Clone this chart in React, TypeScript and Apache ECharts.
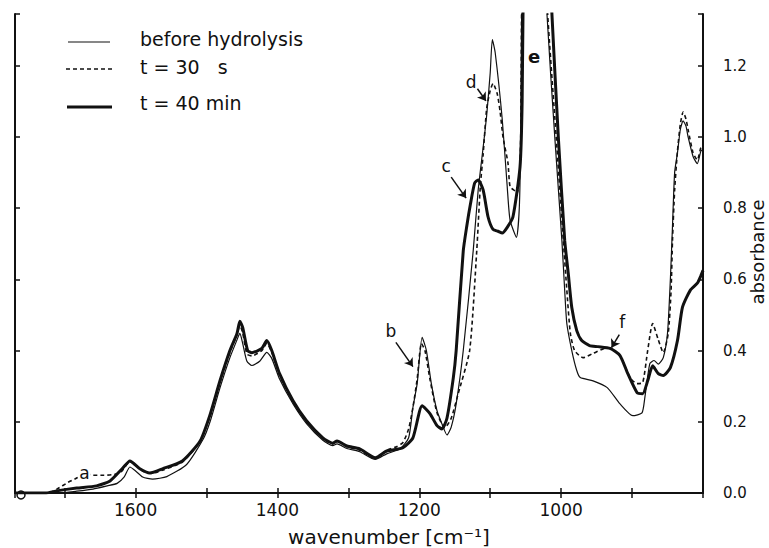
import React, { useEffect, useRef } from "react";
import * as echarts from "echarts";

// wavenumber [cm-1], absorbance
const beforeHydrolysis: [number, number][] = [
  [1770, 0], [1720, 0], [1706, 0], [1683, 0.005], [1660, 0.011], [1640, 0.02], [1626, 0.027], [1616, 0.045],
  [1608, 0.073], [1600, 0.062], [1590, 0.045], [1576, 0.039], [1556, 0.046], [1528, 0.08], [1505, 0.15],
  [1495, 0.2], [1481, 0.295], [1467, 0.38], [1457, 0.43], [1453, 0.448], [1449, 0.42], [1443, 0.37],
  [1436, 0.358], [1425, 0.37], [1415, 0.395], [1408, 0.378], [1397, 0.32], [1378, 0.25], [1359, 0.195],
  [1336, 0.148], [1322, 0.133], [1316, 0.138], [1302, 0.125], [1284, 0.116], [1262, 0.094], [1246, 0.11],
  [1227, 0.124], [1215, 0.155], [1209, 0.24], [1203, 0.307], [1196, 0.437], [1190, 0.4], [1183, 0.307],
  [1175, 0.231], [1168, 0.194], [1161, 0.163], [1155, 0.185], [1148, 0.25], [1138, 0.4], [1124, 0.68],
  [1117, 0.85], [1110, 0.97], [1105, 1.06], [1100, 1.18], [1097, 1.273], [1093, 1.237], [1083, 1.048],
  [1076, 0.859], [1072, 0.766], [1063, 0.718], [1059, 0.8], [1057, 1.0], [1055, 1.5], [1045, 2.3],
  [1030, 2.3], [1022, 1.5], [1020, 1.345], [1009, 1.0], [999, 0.71], [995, 0.569], [992, 0.476],
  [985, 0.4], [978, 0.344], [973, 0.324], [955, 0.315], [935, 0.296], [917, 0.25], [899, 0.217],
  [886, 0.225], [882, 0.268], [875, 0.363], [869, 0.372], [863, 0.362], [856, 0.38], [850, 0.45],
  [846, 0.6], [843, 0.75], [840, 0.9], [836, 0.955], [832, 1.02], [828, 1.045], [824, 1.03], [821, 1.0],
  [814, 0.945], [808, 0.925], [803, 0.96], [800, 0.965],
];

const after30s: [number, number][] = [
  [1770, 0], [1722, 0], [1711, 0.011], [1695, 0.03], [1683, 0.042], [1672, 0.056], [1660, 0.05],
  [1645, 0.05], [1630, 0.052], [1620, 0.06], [1608, 0.088], [1598, 0.075], [1590, 0.062], [1578, 0.055],
  [1562, 0.064], [1534, 0.087], [1509, 0.145], [1495, 0.215], [1481, 0.31], [1467, 0.395], [1457, 0.445],
  [1453, 0.47], [1449, 0.45], [1443, 0.39], [1436, 0.385], [1422, 0.4], [1415, 0.42], [1408, 0.395],
  [1397, 0.33], [1378, 0.255], [1359, 0.2], [1336, 0.153], [1322, 0.138], [1316, 0.145], [1302, 0.13],
  [1284, 0.12], [1262, 0.097], [1246, 0.12], [1232, 0.13], [1223, 0.142], [1215, 0.18], [1209, 0.24],
  [1203, 0.32], [1197, 0.42], [1192, 0.4], [1185, 0.32], [1175, 0.225], [1164, 0.183], [1155, 0.21],
  [1145, 0.28], [1129, 0.4], [1119, 0.68], [1114, 0.86], [1110, 0.95], [1105, 1.08], [1100, 1.13],
  [1096, 1.15], [1090, 1.12], [1086, 1.07], [1082, 1.0], [1075, 0.927], [1072, 0.86], [1065, 0.848],
  [1062, 0.842], [1059, 0.88], [1057, 1.0], [1055, 1.5], [1045, 2.3], [1030, 2.3], [1021, 1.5],
  [1019, 1.345], [1007, 1.0], [997, 0.71], [992, 0.57], [987, 0.448], [981, 0.4], [969, 0.38],
  [955, 0.392], [935, 0.408], [917, 0.386], [903, 0.324], [893, 0.307], [885, 0.31], [878, 0.4],
  [871, 0.476], [863, 0.43], [856, 0.394], [849, 0.448], [845, 0.569], [843, 0.71], [840, 0.85],
  [836, 0.96], [832, 1.035], [828, 1.07], [824, 1.05], [821, 1.02], [814, 0.955], [808, 0.935],
  [803, 0.97], [800, 0.975],
];

const after40min: [number, number][] = [
  [1770, 0], [1726, 0], [1711, 0.006], [1683, 0.014], [1655, 0.02], [1636, 0.034], [1618, 0.07],
  [1608, 0.09], [1594, 0.068], [1580, 0.056], [1562, 0.068], [1534, 0.09], [1509, 0.146], [1495, 0.22],
  [1481, 0.315], [1467, 0.4], [1457, 0.448], [1453, 0.482], [1449, 0.465], [1442, 0.4], [1436, 0.394],
  [1422, 0.406], [1415, 0.428], [1408, 0.4], [1397, 0.335], [1378, 0.259], [1359, 0.203], [1336, 0.155],
  [1322, 0.14], [1316, 0.146], [1302, 0.132], [1284, 0.124], [1262, 0.099], [1246, 0.118], [1223, 0.127],
  [1209, 0.155], [1196, 0.245], [1185, 0.223], [1175, 0.189], [1168, 0.18], [1161, 0.21], [1152, 0.324],
  [1148, 0.4], [1138, 0.68], [1133, 0.75], [1128, 0.81], [1122, 0.87], [1117, 0.879], [1110, 0.851],
  [1103, 0.775], [1096, 0.74], [1089, 0.735], [1083, 0.73], [1076, 0.746], [1068, 0.775], [1058, 0.915],
  [1055, 1.1], [1053, 1.5], [1045, 2.3], [1030, 2.3], [1016, 1.5], [1013, 1.345], [1004, 1.0], [995, 0.71],
  [990, 0.617], [985, 0.521], [978, 0.456], [971, 0.428], [960, 0.414], [948, 0.411], [931, 0.406],
  [917, 0.386], [906, 0.335], [893, 0.282], [885, 0.279], [878, 0.315], [871, 0.357], [863, 0.335],
  [856, 0.33], [846, 0.352], [836, 0.428], [829, 0.521], [818, 0.569], [808, 0.589], [803, 0.61],
  [800, 0.625],
];

const seriesNames = ["before hydrolysis", "t = 30   s", "t = 40 min"];

const xLabelTicks = [1600, 1400, 1200, 1000];
const yLabelTicks = [0, 0.2, 0.4, 0.6, 0.8, 1.0, 1.2];

const bandLetters = ["a", "b", "c", "d", "e", "f"];
const bandLetterAt: [number, number][] = [
  [1672, 0.056], [1240, 0.456], [1162, 0.918], [1127, 1.155], [1038, 1.225], [914, 0.479],
];
const arrowFrom: [number, number][] = [[1233, 0.423], [1155, 0.887], [1118, 1.135], [918, 0.445]];
const arrowTo: [number, number][] = [[1209, 0.355], [1134, 0.828], [1106, 1.101], [929, 0.408]];

const FONT = "'DejaVu Sans', 'Liberation Sans', sans-serif";
const INK = "#111111";

export default function App() {
  const ref = useRef<HTMLDivElement>(null);

  useEffect(() => {
    if (!ref.current) return;
    const chart = echarts.init(ref.current, undefined, { renderer: "svg" });

    const frameLine = { show: true, lineStyle: { color: INK, width: 2 } };
    const tickIn = { show: true, inside: true, length: 5, lineStyle: { color: INK, width: 1.5 } };

    const option: any = {
      animation: false,
      backgroundColor: "#ffffff",
      grid: { left: 15, right: 66, top: 14, bottom: 55, containLabel: false },
      xAxis: [
        {
          type: "value",
          position: "bottom",
          min: 800,
          max: 1770,
          interval: 100,
          inverse: true,
          axisLine: frameLine,
          axisTick: tickIn,
          splitLine: { show: false },
          axisLabel: {
            margin: 8,
            color: INK,
            fontSize: 17,
            fontFamily: FONT,
            formatter: (v: number) => (xLabelTicks.includes(Math.round(v)) ? String(Math.round(v)) : ""),
          },
        },
        {
          type: "value",
          position: "top",
          min: 800,
          max: 1770,
          interval: 100,
          inverse: true,
          axisLine: frameLine,
          axisTick: tickIn,
          splitLine: { show: false },
          axisLabel: { show: false },
        },
      ],
      yAxis: [
        {
          type: "value",
          position: "right",
          min: 0,
          max: 1.345,
          interval: 0.2,
          axisLine: frameLine,
          axisTick: tickIn,
          splitLine: { show: false },
          axisLabel: {
            margin: 20,
            color: INK,
            fontSize: 15,
            fontFamily: FONT,
            formatter: (v: number) =>
              yLabelTicks.some((t) => Math.abs(t - v) < 1e-6) ? v.toFixed(1) : "",
          },
        },
        {
          type: "value",
          position: "left",
          min: 0,
          max: 1.345,
          interval: 0.2,
          axisLine: frameLine,
          axisTick: tickIn,
          splitLine: { show: false },
          axisLabel: { show: false },
        },
      ],
      series: [
        {
          name: seriesNames[0],
          type: "line",
          data: beforeHydrolysis,
          showSymbol: false,
          smooth: 0.2,
          clip: true,
          lineStyle: { color: INK, width: 1.2 },
        },
        {
          name: seriesNames[1],
          type: "line",
          data: after30s,
          showSymbol: false,
          smooth: 0.2,
          clip: true,
          lineStyle: { color: INK, width: 1.6, type: [4, 3] },
        },
        {
          name: seriesNames[2],
          type: "line",
          data: after40min,
          showSymbol: false,
          smooth: 0.2,
          clip: true,
          lineStyle: { color: INK, width: 3 },
        },
        {
          name: "annotations",
          type: "line",
          data: [],
          silent: true,
          markLine: {
            silent: true,
            symbol: ["none", "arrow"],
            symbolSize: 8,
            label: { show: false },
            lineStyle: { color: INK, width: 1.5, type: "solid" },
            data: arrowFrom.map((p, i) => [{ coord: p }, { coord: arrowTo[i] }]),
          },
          markPoint: {
            silent: true,
            symbol: "circle",
            symbolSize: 0,
            data: bandLetters.map((l, i) => ({
              name: l,
              coord: bandLetterAt[i],
              label: {
                show: true,
                position: "inside",
                formatter: l,
                color: INK,
                fontSize: l === "e" ? 18 : 17,
                fontWeight: l === "e" ? "bold" : "normal",
                fontFamily: FONT,
                backgroundColor: l === "a" ? "#ffffff" : "transparent",
                padding: l === "a" ? [0, 1] : 0,
              },
            })),
          },
        },
      ],
      graphic: [
        // legend
        { type: "line", shape: { x1: 68, y1: 42, x2: 110, y2: 42 }, style: { stroke: INK, lineWidth: 1.2 } },
        {
          type: "text", x: 140, y: 39,
          style: { text: seriesNames[0], fill: INK, font: `19px ${FONT}`, verticalAlign: "middle" },
        },
        {
          type: "line", shape: { x1: 66, y1: 69, x2: 113, y2: 69 },
          style: { stroke: INK, lineWidth: 1.6, lineDash: [4, 3] },
        },
        {
          type: "text", x: 140, y: 67,
          style: { text: seriesNames[1], fill: INK, font: `19px ${FONT}`, verticalAlign: "middle" },
        },
        { type: "line", shape: { x1: 67, y1: 107, x2: 112, y2: 107 }, style: { stroke: INK, lineWidth: 3 } },
        {
          type: "text", x: 140, y: 103,
          style: { text: seriesNames[2], fill: INK, font: `19px ${FONT}`, verticalAlign: "middle" },
        },
        // axis titles
        {
          type: "text", x: 389, y: 537,
          style: { text: "wavenumber [cm⁻¹]", fill: INK, font: `20px ${FONT}`, align: "center", verticalAlign: "middle" },
        },
        {
          type: "text", x: 757, y: 252, rotation: Math.PI / 2,
          style: { text: "absorbance", fill: INK, font: `18px ${FONT}`, align: "center", verticalAlign: "middle" },
        },
        // small corner mark
        { type: "circle", shape: { cx: 21, cy: 495, r: 4 }, style: { fill: "none", stroke: INK, lineWidth: 1.5 } },
      ],
    };

    chart.setOption(option);
    return () => chart.dispose();
  }, []);

  return (
    <div
      ref={ref}
      style={{ position: "fixed", left: 0, top: 0, width: 769, height: 548, background: "#fff" }}
    />
  );
}
